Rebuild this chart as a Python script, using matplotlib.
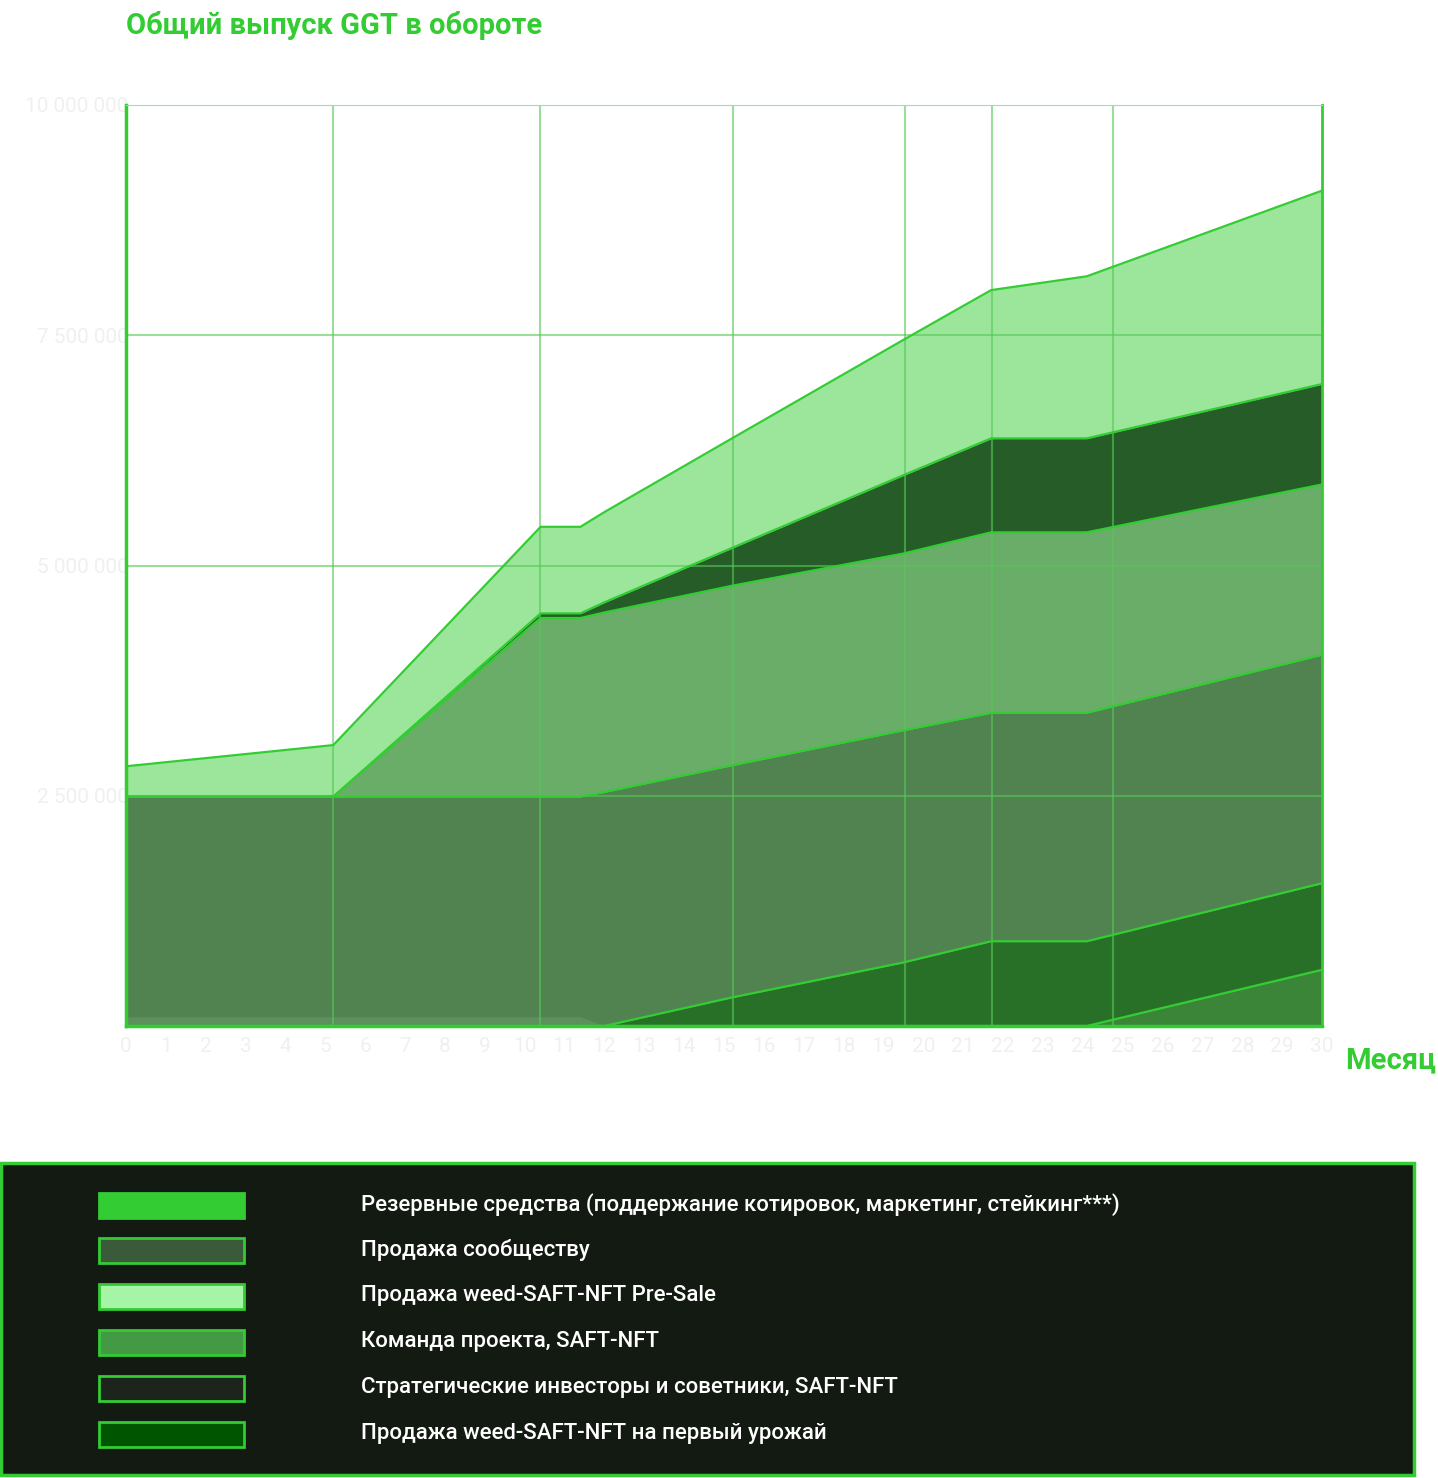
import matplotlib
matplotlib.use('Agg')
import matplotlib.pyplot as plt
from matplotlib.patches import Rectangle
import numpy as np

plt.rcParams['font.family'] = ['Roboto', 'DejaVu Sans']

# breakpoints (months) and cumulative tops in millions
x = [0, 5.2, 10.4, 11.4, 12.0, 15.2, 19.5, 21.7, 24.1, 30]
reserve_top = [0.1, 0.1, 0.1, 0.1, 0.0, 0.0, 0.0, 0.0, 0.0, 0.0]
harvest_top = [0, 0, 0, 0, 0, 0, 0, 0, 0, 0.61]
first_top = [0, 0, 0, 0, 0, 0.31, 0.69, 0.92, 0.92, 1.55]
community_top = [2.49, 2.49, 2.49, 2.49, 2.54, 2.83, 3.21, 3.40, 3.40, 4.03]
team_top = [2.49, 2.49, 4.43, 4.43, 4.49, 4.78, 5.13, 5.36, 5.36, 5.88]
strat_top = [2.49, 2.49, 4.48, 4.48, 4.60, 5.19, 5.98, 6.38, 6.38, 6.97]
total_top = [2.82, 3.05, 5.42, 5.42, 5.58, 6.38, 7.45, 7.99, 8.14, 9.07]
vgrid = [5.19, 10.38, 15.22, 19.54, 21.72, 24.76]

legend_labels = ['Резервные средства (поддержание котировок, маркетинг, стейкинг***)',
                 'Продажа сообществу',
                 'Продажа weed-SAFT-NFT Pre-Sale',
                 'Команда проекта, SAFT-NFT',
                 'Стратегические инвесторы и советники, SAFT-NFT',
                 'Продажа weed-SAFT-NFT на первый урожай']
legend_colors = ['#33cc33', '#3a5a3a', '#a6f5a6', '#449944', '#1c241c', '#005500']

green = '#33cc33'
fig = plt.figure(figsize=(14.38, 14.78), dpi=100)
W, H = 1438, 1478
ax = fig.add_axes([126/W, 1-1026/H, (1322-126)/W, (1026-105)/H])

X = np.array(x)
zero = np.zeros(len(x))
layers = [
    (zero, harvest_top, '#3a8538'),
    (harvest_top, first_top, '#287028'),
    (first_top, community_top, '#50834f'),
    (community_top, team_top, '#6aad69'),
    (team_top, strat_top, '#265c28'),
    (strat_top, total_top, '#9be69b'),
]
for lo, hi, c in layers:
    ax.fill_between(X, np.array(lo)*1e6, np.array(hi)*1e6, color=c, lw=0, zorder=1)
ax.fill_between(X, 0, np.array(reserve_top)*1e6, color='#5f8f5e', lw=0, zorder=1.5)
for _, hi, _c in layers:
    ax.plot(X, np.array(hi)*1e6, color=green, lw=1.6, zorder=3)

for v in [2.5e6, 5e6, 7.5e6, 10e6]:
    ax.axhline(v, color='#55c955' if v < 1e7 else '#9be69b', lw=1.5, alpha=0.6, zorder=2)
for v in vgrid:
    ax.axvline(v, color='#55c955', lw=1.5, alpha=0.6, zorder=2)

ax.set_xlim(0, 30)
ax.set_ylim(0, 10e6)
for s in ['top', 'right']:
    ax.spines[s].set_color('#9be69b')
for s in ['left', 'bottom']:
    ax.spines[s].set_color(green)
    ax.spines[s].set_linewidth(2.5)
ax.spines['right'].set_color(green)
ax.spines['right'].set_linewidth(2)
ax.set_xticks(range(31))
ax.set_xticklabels([str(i) for i in range(31)], fontsize=15, color='#f0f0f0')
ax.set_yticks([2.5e6, 5e6, 7.5e6, 10e6])
ax.set_yticklabels(['2 500 000', '5 000 000', '7 500 000', '10 000 000'],
                   fontsize=15, color='#f0f0f0')
ax.tick_params(length=0, pad=8)
ax.tick_params(axis='y', pad=-2)
for lab in ax.get_yticklabels():
    lab.set_horizontalalignment('right')

fig.text(126/W, 1-25/H, 'Общий выпуск GGT в обороте', fontsize=21, fontweight='bold',
         color=green, va='center')
fig.text(1436/W, 1-1060/H, 'Месяц', fontsize=21, fontweight='bold', color=green,
         ha='right', va='center')

# legend box
lax = fig.add_axes([0, 0, 1, 1])
lax.set_xlim(0, W)
lax.set_ylim(H, 0)
lax.axis('off')
lax.add_patch(Rectangle((1, 1163), 1413, 312, facecolor='#131a11', edgecolor=green, lw=2.5))
rows = [1205, 1250, 1296, 1342, 1388, 1434]
for yy, lab, c in zip(rows, legend_labels, legend_colors):
    lax.add_patch(Rectangle((99, yy-12), 145, 25, facecolor=c, edgecolor=green, lw=2))
    lax.text(361, yy, lab, color='white', fontsize=16, fontweight='medium', va='center')

fig.savefig('out.png', dpi=100)
